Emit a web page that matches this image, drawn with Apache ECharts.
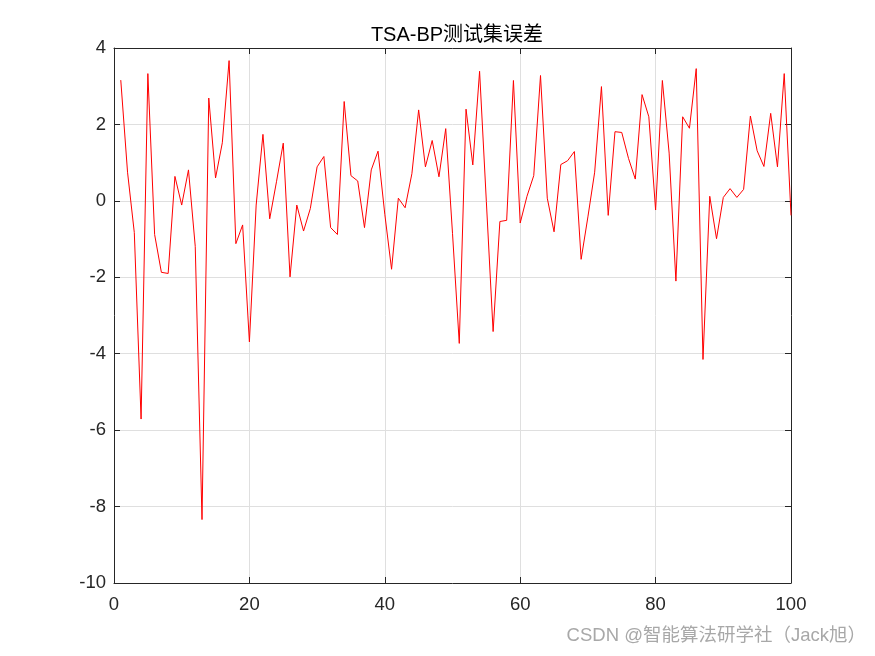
<!DOCTYPE html>
<html>
<head>
<meta charset="utf-8">
<script src="https://cdn.jsdelivr.net/npm/echarts@6/dist/echarts.min.js"></script>
<style>
html,body{margin:0;padding:0;background:#fff;}
#c{width:875px;height:656px;}
</style>
</head>
<body>
<div id="c"></div>
<script>
var titleText = 'TSA-BP测试集误差';
var watermark = 'CSDN @智能算法研学社（Jack旭）';
var xIndex = [];
for (var k = 1; k <= 100; k++) xIndex.push(k);
var errors = [
  3.16, 0.75, -0.83, -5.71, 3.33, -0.88, -1.87, -1.90, 0.64, -0.11,
  0.81, -1.19, -8.34, 2.69, 0.60, 1.52, 3.67, -1.12, -0.63, -3.69,
  -0.11, 1.74, -0.47, 0.50, 1.51, -1.99, -0.11, -0.79, -0.20, 0.89,
  1.16, -0.70, -0.88, 2.60, 0.66, 0.52, -0.70, 0.81, 1.30, -0.35,
  -1.79, 0.07, -0.18, 0.71, 2.38, 0.89, 1.58, 0.63, 1.89, -0.85,
  -3.73, 2.40, 0.94, 3.39, -0.02, -3.42, -0.54, -0.51, 3.15, -0.58,
  0.12, 0.66, 3.28, 0.07, -0.81, 0.95, 1.05, 1.29, -1.53, -0.42,
  0.75, 2.99, -0.38, 1.81, 1.79, 1.11, 0.57, 2.78, 2.20, -0.24,
  3.15, 1.25, -2.10, 2.20, 1.90, 3.46, -4.15, 0.12, -0.99, 0.09,
  0.32, 0.09, 0.30, 2.22, 1.31, 0.90, 2.29, 0.89, 3.33, -0.38
];
var xMin = 0, xMax = 100, xStep = 20;
var yMin = -10, yMax = 4, yStep = 2;

var data = xIndex.map(function (x, i) { return [x, errors[i]]; });
var chart = echarts.init(document.getElementById('c'));
var axisCol = '#262626';
var font = 'Arial, "Liberation Sans", "Noto Sans CJK SC", sans-serif';
function mkAxis(type, pos, show, extra) {
  var a = {
    type: 'value', position: pos,
    axisLine: { show: true, onZero: false, lineStyle: { color: axisCol, width: 1 } },
    axisTick: { show: true, inside: true, length: 6, lineStyle: { color: axisCol } },
    axisLabel: { show: show, color: axisCol, fontSize: 18.5, fontFamily: font, margin: show ? (type === 'x' ? 13 : 8) : 0 },
    splitLine: { show: show, lineStyle: { color: '#dfdfdf', width: 1 } }
  };
  for (var key in extra) a[key] = extra[key];
  return a;
}
chart.setOption({
  animation: false,
  backgroundColor: '#ffffff',
  title: {
    text: titleText, left: 452, top: 20, textAlign: 'center',
    textStyle: { color: '#000', fontSize: 20, fontWeight: 'normal', fontFamily: font }
  },
  graphic: [{
    type: 'text', right: 9, top: 627,
    style: { text: watermark, fill: '#a8a8a8', fontSize: 18.5, fontFamily: font }
  }],
  grid: { left: 114, top: 48, width: 677, height: 535, containLabel: false },
  xAxis: [
    mkAxis('x', 'bottom', true, { min: xMin, max: xMax, interval: xStep }),
    mkAxis('x', 'top', false, { min: xMin, max: xMax, interval: xStep })
  ],
  yAxis: [
    mkAxis('y', 'left', true, { min: yMin, max: yMax, interval: yStep }),
    mkAxis('y', 'right', false, { min: yMin, max: yMax, interval: yStep })
  ],
  series: [{
    type: 'line', data: data, xAxisIndex: 0, yAxisIndex: 0,
    showSymbol: false, symbol: 'none',
    lineStyle: { color: '#ff0000', width: 1 }
  }]
});
</script>
</body>
</html>
